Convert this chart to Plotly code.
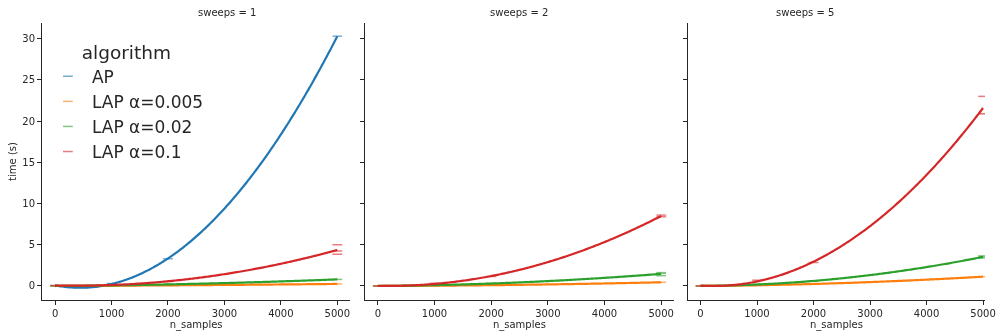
import numpy as np
import plotly.graph_objects as go

# Benchmark timings: seconds per run, repeated runs listed per sample size
n_samples = [0, 1000, 2000, 5000]
sweeps_levels = [1, 2, 5]
algorithms = ["AP", "LAP α=0.005", "LAP α=0.02", "LAP α=0.1"]
colors = ["#1f77b4", "#ff7f0e", "#2ca02c", "#d62728"]

# sweeps = 1
ap_s1 = [[0.05], [0.3], [3.3], [30.3]]
lap005_s1 = [[0.0], [0.03], [0.08], [0.25]]
lap02_s1 = [[0.0], [0.06], [0.2], [0.8]]
lap1_s1 = [[0.05], [0.15], [0.55], [5.0, 4.25, 3.85]]

# sweeps = 2
lap005_s2 = [[0.0], [0.03], [0.1], [0.45]]
lap02_s2 = [[0.0], [0.1], [0.3], [1.62, 1.55, 1.25]]
lap1_s2 = [[0.0], [0.33], [1.15], [8.6, 8.4]]

# sweeps = 5
lap005_s5 = [[0.0], [0.08], [0.25], [1.13]]
lap02_s5 = [[0.0], [0.2], [0.6], [3.65, 3.4, 3.55]]
lap1_s5 = [[0.0], [0.7], [2.85], [23.0, 20.9, 20.9]]

panels = {
    1: {"AP": ap_s1, "LAP α=0.005": lap005_s1, "LAP α=0.02": lap02_s1, "LAP α=0.1": lap1_s1},
    2: {"LAP α=0.005": lap005_s2, "LAP α=0.02": lap02_s2, "LAP α=0.1": lap1_s2},
    5: {"LAP α=0.005": lap005_s5, "LAP α=0.02": lap02_s5, "LAP α=0.1": lap1_s5},
}

INK = "#262626"
FONT = "DejaVu Sans"

fig = go.Figure()
domains = [[0.0, 0.3268], [0.3422, 0.6703], [0.685, 1.0]]
xranges = [[-232, 5228], [-232, 5228], [-222, 5035]]

for i, sw in enumerate(sweeps_levels):
    xa = "x" if i == 0 else f"x{i + 1}"
    ya = "y" if i == 0 else f"y{i + 1}"
    for alg, col in zip(algorithms, colors):
        if alg not in panels[sw]:
            continue
        runs = panels[sw][alg]
        means = [float(np.mean(r)) for r in runs]
        # second-order regression of time on n_samples
        coef = np.polyfit(n_samples, means, 2)
        xx = np.linspace(min(n_samples), max(n_samples), 200)
        fig.add_trace(go.Scatter(
            x=xx, y=np.polyval(coef, xx), mode="lines",
            line=dict(color=col, width=2.2, simplify=False), xaxis=xa, yaxis=ya,
            showlegend=False, legendgroup=alg, hoverinfo="skip"))
        px_, py_ = [], []
        for n, r in zip(n_samples, runs):
            for t in r:
                px_.append(n)
                py_.append(t)
        fig.add_trace(go.Scatter(
            x=px_, y=py_, mode="markers", name=alg, legendgroup=alg,
            marker=dict(symbol="line-ew", size=7, color=col,
                        line=dict(color=col, width=1.5)),
            opacity=0.6, xaxis=xa, yaxis=ya, showlegend=(i == 0)))

axis_common = dict(showline=True, linecolor=INK, linewidth=1, ticks="outside",
                   ticklen=4, tickwidth=1, tickcolor=INK, showgrid=False,
                   zeroline=False, tickfont=dict(family=FONT, size=10, color=INK))

layout = dict(
    width=996, height=333,
    margin=dict(l=42, r=0, t=23, b=33),
    plot_bgcolor="white", paper_bgcolor="white",
    font=dict(family=FONT, color=INK),
    legend=dict(
        x=0.002, y=0.958, xanchor="left", yanchor="top",
        bgcolor="rgba(0,0,0,0)", borderwidth=0,
        font=dict(family=FONT, size=17, color=INK),
        title=dict(text="algorithm", side="top center",
                   font=dict(family=FONT, size=18.5, color=INK)),
        tracegroupgap=0, itemwidth=38),
)
for i in range(3):
    key = "" if i == 0 else str(i + 1)
    layout[f"xaxis{key}"] = dict(
        axis_common, domain=domains[i], range=xranges[i],
        tickvals=[0, 1000, 2000, 3000, 4000, 5000], anchor=f"y{key}",
        ticklabeloverflow="allow",
        title=dict(text="n_samples", font=dict(family=FONT, size=10, color=INK), standoff=2))
    layout[f"yaxis{key}"] = dict(
        axis_common, domain=[0, 1], range=[-1.7, 31.9],
        tickvals=[0, 5, 10, 15, 20, 25, 30], anchor=f"x{key}",
        showticklabels=(i == 0),
        title=dict(text="time (s)" if i == 0 else "",
                   font=dict(family=FONT, size=10, color=INK), standoff=3))

fig.update_layout(**layout)

for i, sw in enumerate(sweeps_levels):
    d = domains[i]
    fig.add_annotation(text=f"sweeps = {sw}", xref="paper", yref="paper",
                       x=(d[0] + d[1]) / 2, y=1, yanchor="bottom", yshift=3,
                       showarrow=False, font=dict(family=FONT, size=10, color=INK))

fig.write_html("out.html")
